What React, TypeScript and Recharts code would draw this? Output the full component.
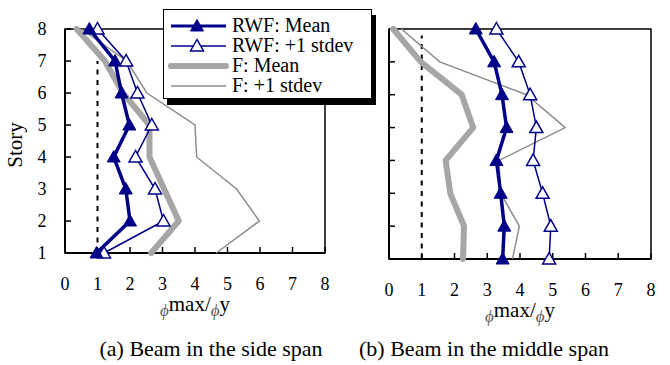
import React from "react";
import {
  Label,
  ReferenceArea,
  ReferenceLine,
  Scatter,
  ScatterChart,
  XAxis,
  YAxis,
} from "recharts";

// story levels, bottom to top
const stories = [1, 2, 3, 4, 5, 6, 7, 8];
const xTicks = [0, 1, 2, 3, 4, 5, 6, 7, 8];

// (a) beam in the side span, values of phi_max / phi_y per story
const sideRwfMean = [0.97, 2.0, 1.87, 1.5, 1.98, 1.74, 1.54, 0.75];
const sideRwfStd = [1.2, 3.03, 2.77, 2.17, 2.67, 2.23, 1.88, 1.0];
const sideFMean = [2.65, 3.5, 3.05, 2.6, 2.6, 1.78, 1.23, 0.36];
const sideFStd = [4.65, 5.98, 5.28, 4.05, 4.0, 2.52, 1.9, 0.5];

// (b) beam in the middle span
const midRwfMean = [3.47, 3.52, 3.41, 3.28, 3.59, 3.45, 3.21, 2.65];
const midRwfStd = [4.89, 4.94, 4.69, 4.4, 4.5, 4.31, 3.96, 3.28];
const midFMean = [2.26, 2.29, 1.87, 1.73, 2.57, 2.22, 0.97, 0.13];
const midFStd = [3.77, 3.98, 3.41, 3.36, 5.38, 4.2, 1.55, 0.38];

const seriesNames = ["RWF: Mean", "RWF: +1 stdev", "F: Mean", "F: +1 stdev"];

const NAVY = "#000088";
const GRAY_THICK = "#a6a6a6";
const GRAY_THIN = "#8c8c8c";
const SERIF = "'Liberation Serif', Tinos, 'Times New Roman', 'DejaVu Serif', serif";

const toPoints = (vals: number[]) => vals.map((v, i) => ({ x: v, y: stories[i] }));

function triPoints(cx: number, cy: number) {
  return `${cx},${cy - 6.5} ${cx - 6.5},${cy + 5} ${cx + 6.5},${cy + 5}`;
}

function FilledTri(props: any) {
  const { cx, cy } = props;
  if (cx == null || cy == null) return <g />;
  return <polygon points={triPoints(cx, cy)} fill={NAVY} stroke={NAVY} strokeWidth={1} />;
}

function OpenTri(props: any) {
  const { cx, cy } = props;
  if (cx == null || cy == null) return <g />;
  return <polygon points={triPoints(cx, cy)} fill="#fff" stroke={NAVY} strokeWidth={1.5} />;
}

function NoDot() {
  return <g />;
}

function PhiLabel(props: any) {
  const vb = props.viewBox || { x: 0, y: 0, width: 0 };
  const cx = vb.x + vb.width / 2;
  const y = vb.y + 58;
  return (
    <text x={cx} y={y} textAnchor="middle" fontFamily={SERIF} fontSize={21} fill="#000">
      <tspan fontStyle="italic" fontSize={17} fill="#555" dy={5}>
        ϕ
      </tspan>
      <tspan dy={-5}>max/</tspan>
      <tspan fontStyle="italic" fontSize={17} fill="#555" dy={5}>
        ϕ
      </tspan>
      <tspan dy={-5}>y</tspan>
    </text>
  );
}

function StoryLabel(props: any) {
  const vb = props.viewBox || { x: 0, y: 0, height: 0 };
  const x = vb.x + 22;
  const cy = vb.y + vb.height / 2 + 4;
  return (
    <text
      x={x}
      y={cy}
      textAnchor="middle"
      fontFamily={SERIF}
      fontSize={21}
      fill="#000"
      transform={`rotate(-90 ${x} ${cy})`}
    >
      Story
    </text>
  );
}

interface PanelProps {
  rwfMean: number[];
  rwfStd: number[];
  fMean: number[];
  fStd: number[];
  margin: { top: number; right: number; bottom: number; left: number };
  yAxisWidth: number;
  showYLabels: boolean;
  dottedTop: number;
}

function Panel({ rwfMean, rwfStd, fMean, fStd, margin, yAxisWidth, showYLabels, dottedTop }: PanelProps) {
  return (
    <ScatterChart width={340} height={330} margin={margin}>
      <XAxis
        type="number"
        dataKey="x"
        domain={[0, 8]}
        ticks={xTicks}
        interval={0}
        height={30}
        axisLine={{ stroke: "#000", strokeWidth: 2 }}
        tickLine={{ stroke: "#000", strokeWidth: 1.5 }}
        tickSize={-6}
        tickMargin={30}
        tick={{ fontSize: 18, fill: "#000", fontFamily: SERIF }}
      >
        <Label content={<PhiLabel />} />
      </XAxis>
      <YAxis
        type="number"
        dataKey="y"
        domain={[1, 8]}
        ticks={stories}
        interval={0}
        width={yAxisWidth}
        axisLine={{ stroke: "#000", strokeWidth: 2 }}
        tickLine={{ stroke: "#000", strokeWidth: 1.5 }}
        tickSize={-6}
        tickMargin={24.5}
        tickFormatter={(v: number) => (showYLabels ? String(v) : "")}
        tick={{ fontSize: 18, fill: "#000", fontFamily: SERIF }}
      >
        {showYLabels && <Label content={<StoryLabel />} />}
      </YAxis>
      <ReferenceArea
        x1={0}
        x2={8}
        y1={1}
        y2={8}
        fill="none"
        fillOpacity={0}
        stroke="#000"
        strokeWidth={1.5}
        ifOverflow="visible"
      />
      <ReferenceLine
        segment={[
          { x: 1, y: 1 },
          { x: 1, y: dottedTop },
        ]}
        stroke="#000"
        strokeWidth={2}
        strokeDasharray="5 5.5"
        ifOverflow="visible"
      />
      <Scatter
        name={seriesNames[3]}
        data={toPoints(fStd)}
        fill={GRAY_THIN}
        line={{ stroke: GRAY_THIN, strokeWidth: 1.5 }}
        shape={<NoDot />}
        isAnimationActive={false}
      />
      <Scatter
        name={seriesNames[2]}
        data={toPoints(fMean)}
        fill={GRAY_THICK}
        line={{ stroke: GRAY_THICK, strokeWidth: 6, strokeLinejoin: "round", strokeLinecap: "round" }}
        shape={<NoDot />}
        isAnimationActive={false}
      />
      <Scatter
        name={seriesNames[1]}
        data={toPoints(rwfStd)}
        fill={NAVY}
        line={{ stroke: NAVY, strokeWidth: 1.5 }}
        shape={<OpenTri />}
        isAnimationActive={false}
      />
      <Scatter
        name={seriesNames[0]}
        data={toPoints(rwfMean)}
        fill={NAVY}
        line={{ stroke: NAVY, strokeWidth: 3.5 }}
        shape={<FilledTri />}
        isAnimationActive={false}
      />
    </ScatterChart>
  );
}

function LegendBox() {
  const rows = [
    { name: seriesNames[0], stroke: NAVY, width: 3, marker: "filled", y: 16 },
    { name: seriesNames[1], stroke: NAVY, width: 1.5, marker: "open", y: 36 },
    { name: seriesNames[2], stroke: GRAY_THICK, width: 6, marker: "none", y: 56 },
    { name: seriesNames[3], stroke: GRAY_THIN, width: 1.5, marker: "none", y: 76 },
  ];
  return (
    <div
      style={{
        position: "absolute",
        left: 163,
        top: 9,
        width: 209,
        height: 90,
        boxSizing: "border-box",
        border: "1.5px solid #000",
        background: "#fff",
        boxShadow: "4px 6px 0 0 #000",
        zIndex: 5,
      }}
    >
      <svg width={206} height={87} style={{ position: "absolute", left: 0, top: 0 }}>
        {rows.map((r) => (
          <g key={r.name}>
            <line
              x1={7}
              x2={62}
              y1={r.y}
              y2={r.y}
              stroke={r.stroke}
              strokeWidth={r.width}
              strokeLinecap={r.width > 4 ? "round" : "butt"}
            />
            {r.marker === "filled" && <FilledTri cx={33} cy={r.y} />}
            {r.marker === "open" && <OpenTri cx={33} cy={r.y} />}
            <text x={68} y={r.y + 6} fontFamily={SERIF} fontSize={20} fill="#000">
              {r.name}
            </text>
          </g>
        ))}
      </svg>
    </div>
  );
}

export default function App() {
  return (
    <div
      style={{
        position: "absolute",
        left: 0,
        top: 0,
        width: 670,
        height: 365,
        background: "#fff",
        fontFamily: SERIF,
        overflow: "hidden",
      }}
    >
      <div style={{ position: "absolute", left: 0, top: 0 }}>
        <Panel
          rwfMean={sideRwfMean}
          rwfStd={sideRwfStd}
          fMean={sideFMean}
          fStd={sideFStd}
          margin={{ top: 29, right: 15, bottom: 47, left: 0 }}
          yAxisWidth={65}
          showYLabels={true}
          dottedTop={7}
        />
      </div>
      <div style={{ position: "absolute", left: 330, top: 0 }}>
        <Panel
          rwfMean={midRwfMean}
          rwfStd={midRwfStd}
          fMean={midFMean}
          fStd={midFStd}
          margin={{ top: 29, right: 19, bottom: 41, left: 0 }}
          yAxisWidth={59}
          showYLabels={false}
          dottedTop={7.8}
        />
      </div>
      <LegendBox />
      <div
        style={{
          position: "absolute",
          left: 0,
          width: 422,
          top: 337,
          textAlign: "center",
          fontSize: 22,
          lineHeight: "24px",
          color: "#000",
        }}
      >
        (a) Beam in the side span
      </div>
      <div
        style={{
          position: "absolute",
          left: 330,
          width: 308,
          top: 337,
          textAlign: "center",
          fontSize: 22,
          lineHeight: "24px",
          color: "#000",
        }}
      >
        (b) Beam in the middle span
      </div>
    </div>
  );
}
